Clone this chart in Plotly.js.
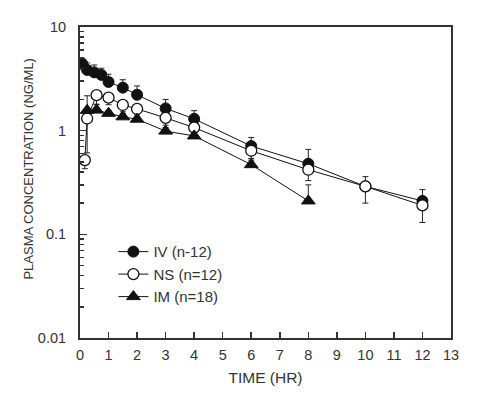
<!DOCTYPE html>
<html><head><meta charset="utf-8">
<script src="https://cdn.plot.ly/plotly-3.0.1.min.js"></script>
<style>html,body{margin:0;padding:0;background:#fff}#c{width:478px;height:395px}</style>
</head><body><div id="c"></div>
<script>
const ivTime = [0.083, 0.25, 0.5, 0.75, 1, 1.5, 2, 3, 4, 6, 8, 10, 12];
const ivConc = [4.4, 3.85, 3.65, 3.45, 2.95, 2.6, 2.22, 1.64, 1.3, 0.71, 0.48, 0.29, 0.21];
const ivErr  = [0.6, 0.65, 0.65, 0.55, 0.55, 0.5, 0.48, 0.36, 0.26, 0.15, 0.18, 0.07, 0.06];

const nsTime = [0.17, 0.25, 0.58, 1, 1.5, 2, 3, 4, 6, 8, 10, 12];
const nsConc = [0.52, 1.31, 2.2, 2.08, 1.77, 1.62, 1.33, 1.07, 0.64, 0.42, 0.29, 0.19];
const nsErr  = [0.09, 0.7, 0.4, 0.3, 0.25, 0.2, 0.2, 0.17, 0.1, 0.09, 0.09, 0.06];

const imTime = [0.25, 0.58, 1, 1.5, 2, 3, 4, 6, 8];
const imConc = [1.57, 1.58, 1.47, 1.36, 1.29, 0.99, 0.89, 0.47, 0.21];
const imErr  = [0.6, 0.2, 0.1, 0.1, 0.08, 0.08, 0.06, 0.05, 0.09];

const xTicks = [0,1,2,3,4,5,6,7,8,9,10,11,12,13];
const yTickVals = [0.01, 0.1, 1, 10];
const yTickText = ['0.01', '0.1', '1', '10'];

const zeros = a => a.map(() => 0);
const lineStyle = {color: '#111', width: 1};
const errStyle = (up, down) => ({type: 'data', symmetric: false, array: up, arrayminus: down,
  color: '#222', thickness: 1, width: 3});

const traces = [
  {x: ivTime, y: ivConc, name: 'IV (n-12)', mode: 'lines+markers', line: lineStyle,
   marker: {symbol: 'circle', size: 11, color: '#111', line: {color: '#111', width: 1}},
   error_y: errStyle(ivErr, zeros(ivErr))},
  {x: nsTime, y: nsConc, name: 'NS (n=12)', mode: 'lines+markers', line: lineStyle,
   marker: {symbol: 'circle', size: 11, color: '#fff', line: {color: '#111', width: 1.3}},
   error_y: errStyle(zeros(nsErr), nsErr)},
  {x: imTime, y: imConc, name: 'IM (n=18)', mode: 'lines+markers', line: lineStyle,
   marker: {symbol: 'triangle-up', size: 12, color: '#111', line: {color: '#111', width: 1}},
   error_y: errStyle(imErr, zeros(imErr))}
];

const fam = 'Liberation Sans, Arial, sans-serif';
const layout = {
  width: 478, height: 395,
  margin: {l: 80, r: 27, t: 27, b: 57},
  paper_bgcolor: '#fff', plot_bgcolor: '#fff',
  font: {family: fam, size: 14, color: '#333'},
  showlegend: true,
  legend: {x: 0.09, y: 0.33, xanchor: 'left', yanchor: 'top', bgcolor: 'rgba(0,0,0,0)',
           font: {family: fam, size: 15, color: '#333'}, tracegroupgap: 0, itemwidth: 30},
  xaxis: {range: [0, 13], tickvals: xTicks, ticktext: xTicks.map(String),
          ticks: 'inside', ticklen: 6, tickwidth: 1.5, tickcolor: '#333', ticklabelstandoff: 3,
          tickfont: {family: fam, size: 14.5, color: '#333'},
          showline: true, linecolor: '#333', linewidth: 2, mirror: true,
          showgrid: false, zeroline: false,
          title: {text: 'TIME (HR)', font: {family: fam, size: 15.5, color: '#333'}, standoff: 10}},
  yaxis: {type: 'log', range: [-2, 1], tickvals: yTickVals, ticktext: yTickText,
          ticks: 'inside', ticklen: 7, tickwidth: 1.5, tickcolor: '#333', ticklabelstandoff: 9,
          tickfont: {family: fam, size: 14.5, color: '#333'},
          minor: {ticks: 'inside', ticklen: 4, tickcolor: '#333', dtick: 'D1', showgrid: false},
          showline: true, linecolor: '#333', linewidth: 2, mirror: true,
          showgrid: false, zeroline: false},
  annotations: [{text: 'PLASMA CONCENTRATION (NG/ML)', xref: 'paper', yref: 'paper',
                 x: -0.14, y: 0.545, xanchor: 'center', yanchor: 'middle', textangle: -90,
                 showarrow: false, font: {family: fam, size: 13, color: '#333'}}]
};
Plotly.newPlot('c', traces, layout, {displayModeBar: false, staticPlot: true});
</script></body></html>
